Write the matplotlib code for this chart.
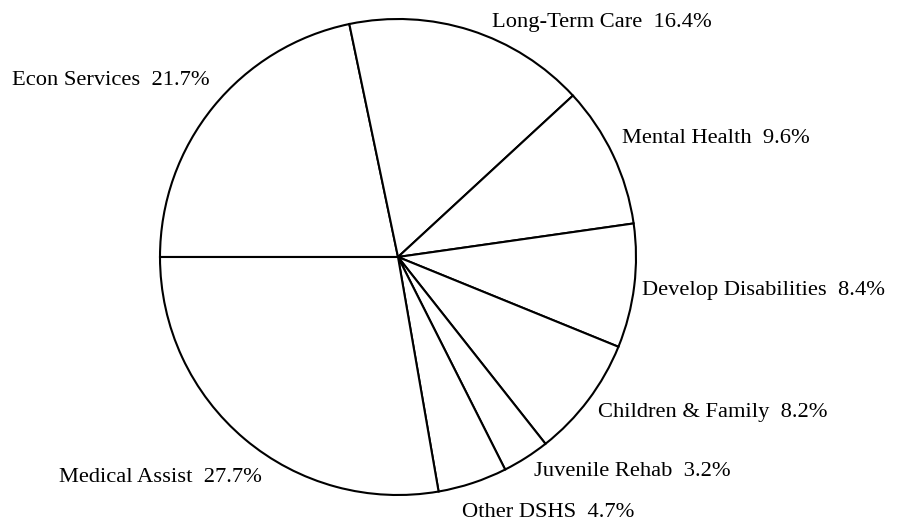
import numpy as np
import matplotlib.pyplot as plt

plt.rcParams['font.family'] = ['Liberation Serif', 'DejaVu Serif']

# data
names = ["Econ Services", "Long-Term Care", "Mental Health", "Develop Disabilities",
         "Children & Family", "Juvenile Rehab", "Other DSHS", "Medical Assist"]
shares = [21.7, 16.4, 9.6, 8.4, 8.2, 3.2, 4.7, 27.7]

labels = [f"{n}  {s}%" for n, s in zip(names, shares)]

# small nudges for the labels (pixels: right, down)
nudge = [(4, -23), (19, -1), (0, -15), (-2, 1), (2, 4), (3, 3), (-14, 18), (23, 29)]

fig = plt.figure(figsize=(9.01, 5.23), dpi=100)
R = 238
cx, cy = 398, 257
ax = fig.add_axes([(cx - R) / 901, (523 - cy - R) / 523, 2 * R / 901, 2 * R / 523])

wedges, texts = ax.pie(shares, labels=labels, startangle=180, counterclock=False,
                       labeldistance=1.04, normalize=True,
                       colors=['white'] * len(shares),
                       wedgeprops=dict(edgecolor='black', linewidth=1.5),
                       textprops=dict(fontsize=16.2, color='black'))
for t, (dx, dy) in zip(texts, nudge):
    x, y = t.get_position()
    t.set_position((x + dx / R, y - dy / R))
    t.set_va('center_baseline')

ax.set_xlim(-1, 1)
ax.set_ylim(-1, 1)
ax.set_aspect('equal')

fig.savefig("out.png", dpi=100)
